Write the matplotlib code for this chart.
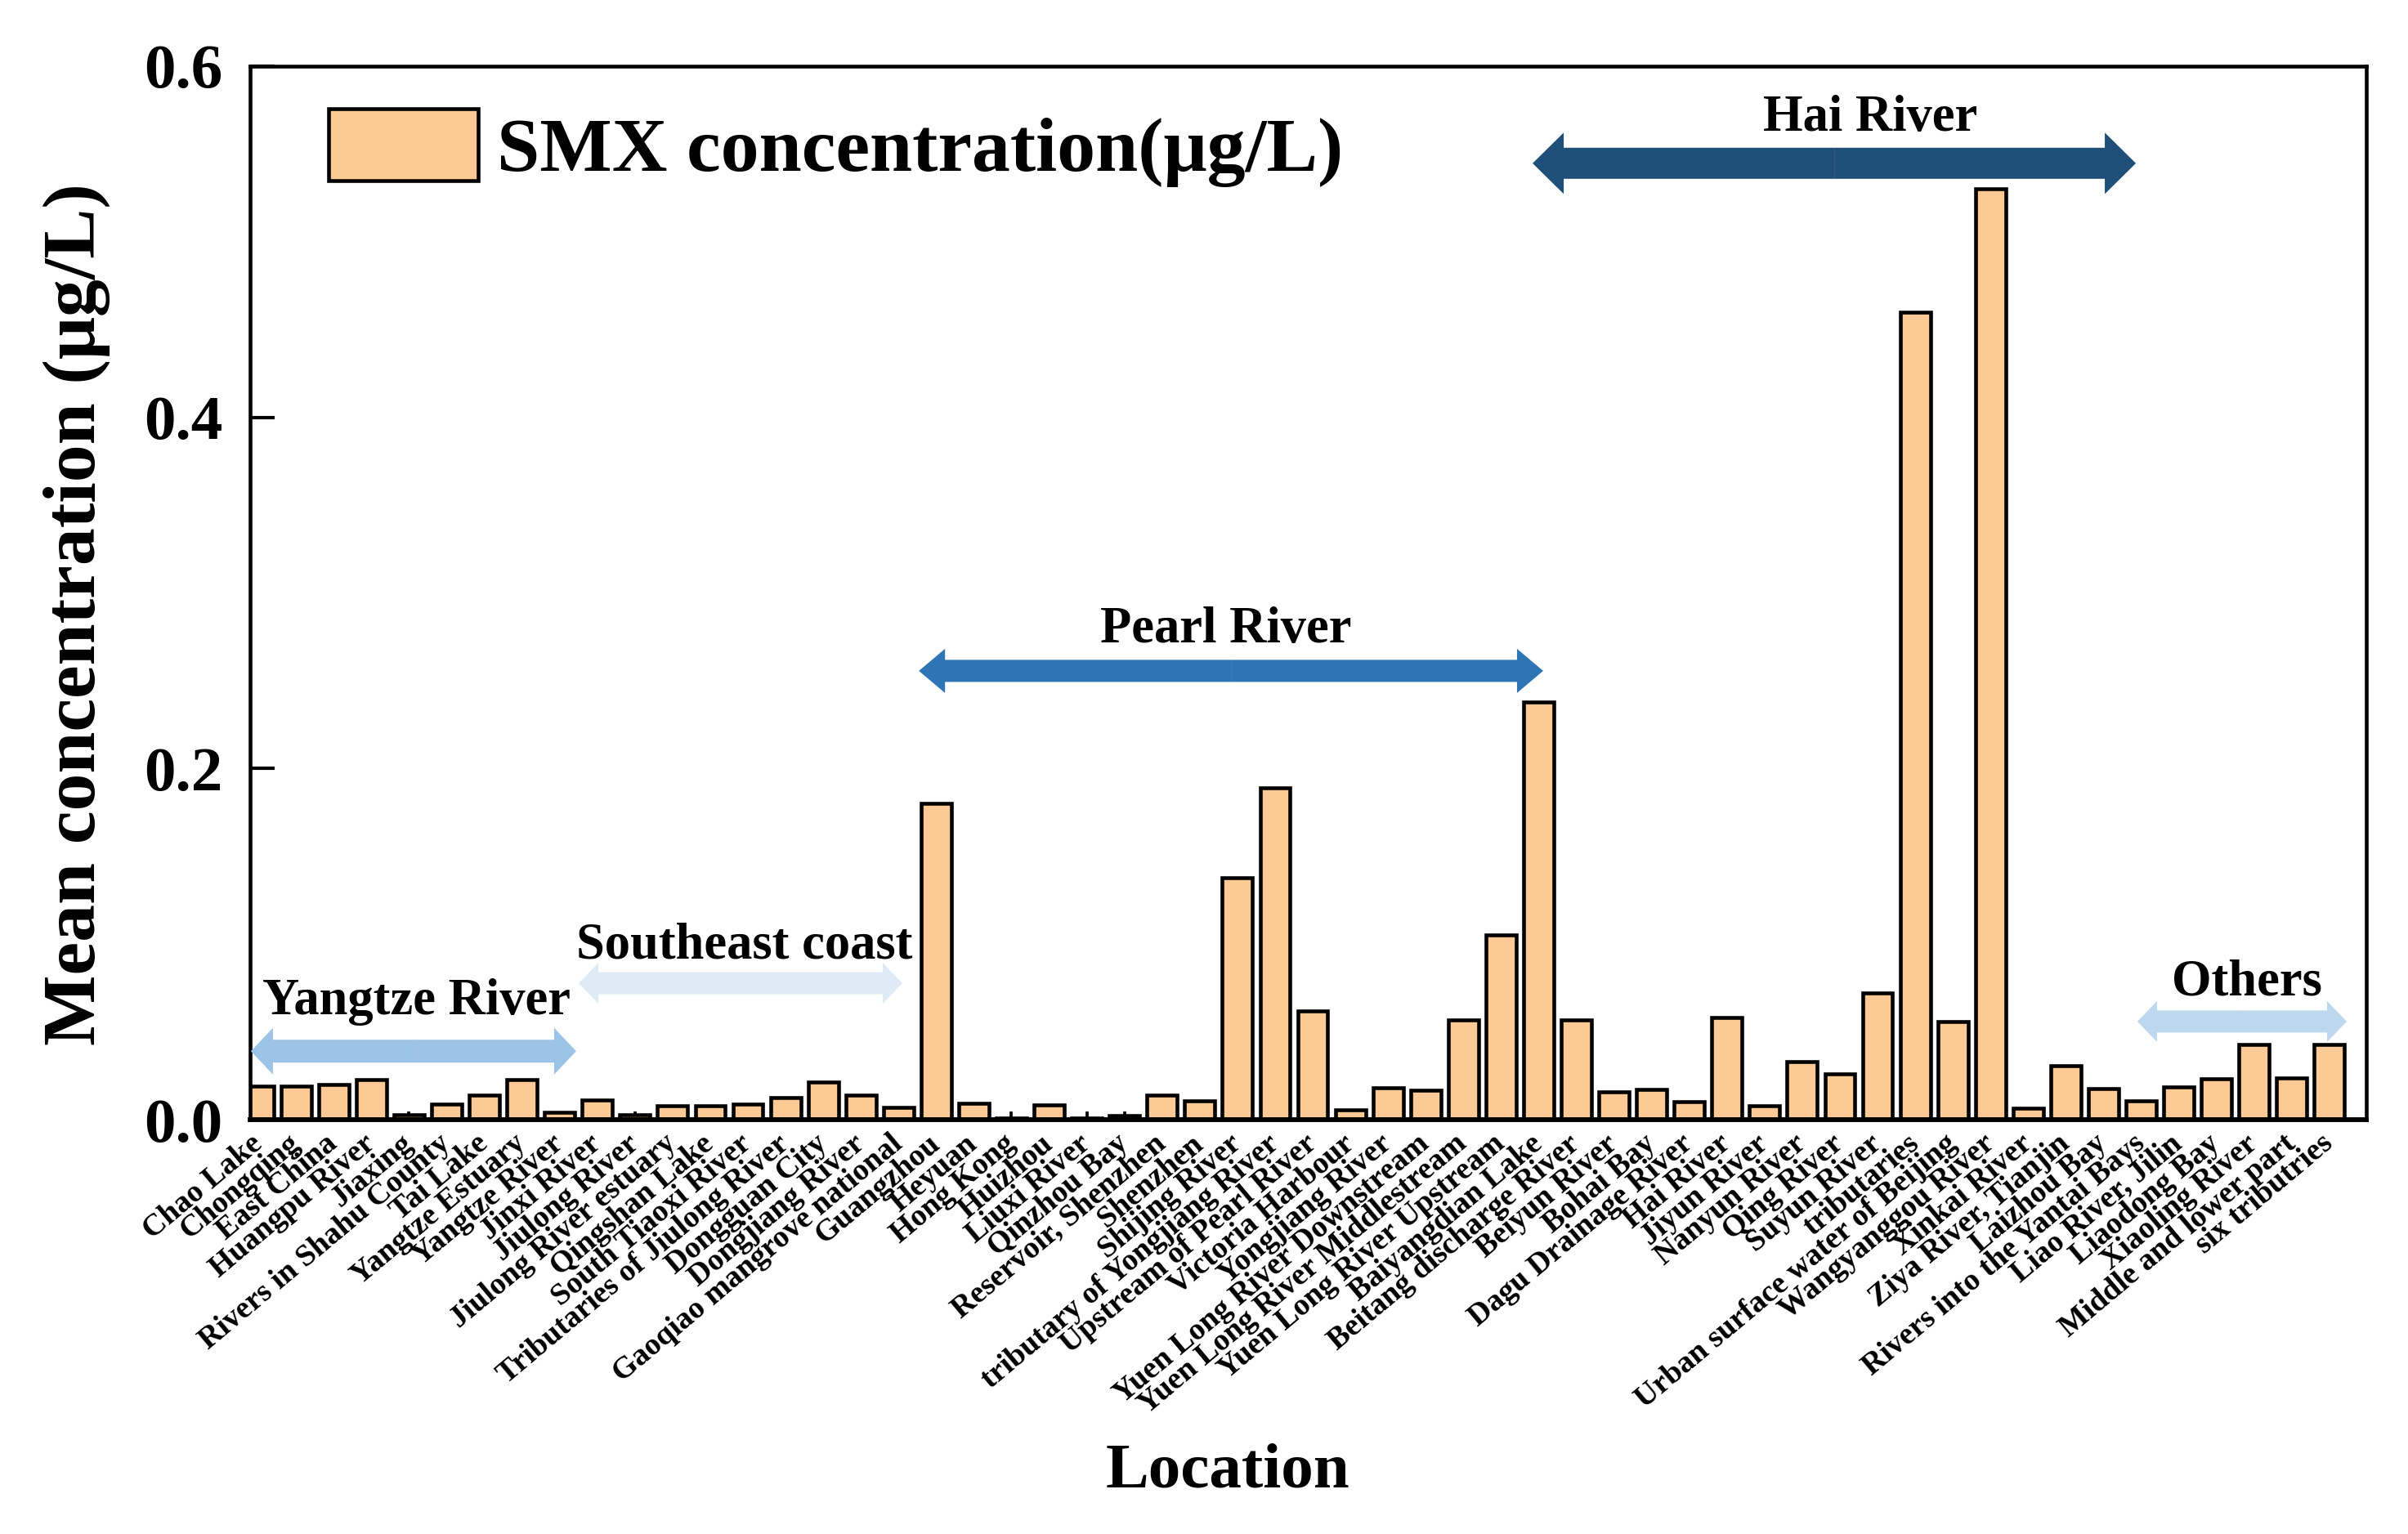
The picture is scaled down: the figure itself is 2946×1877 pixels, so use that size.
import matplotlib
matplotlib.use('Agg')
import matplotlib.pyplot as plt
import matplotlib.patches as mpatches
import numpy as np

plt.rcParams['font.family'] = ['Liberation Serif', 'DejaVu Serif']
plt.rcParams['font.weight'] = 'bold'

locations = [
    "Chao Lake", "Chongqing", "East China", "Huangpu River", "Jiaxing",
    "Rivers in Shahu County", "Tai Lake", "Yangtze Estuary", "Yangtze River",
    "Jinxi River", "Jiulong River", "Jiulong River estuary", "Qingshan Lake",
    "South Tiaoxi River", "Tributaries of Jiulong River", "Dongguan City",
    "Dongjiang River", "Gaoqiao mangrove national", "Guangzhou", "Heyuan",
    "Hong Kong", "Huizhou", "Liuxi River", "Qinzhou Bay", "Reservoir, Shenzhen",
    "Shenzhen", "Shijing River", "tributary of Yongjiang River",
    "Upstream of Pearl River", "Victoria Harbour", "Yongjiang River",
    "Yuen Long River Downstream", "Yuen Long River Middlestream",
    "Yuen Long River Upstream", "Baiyangdian Lake", "Beitang discharge River",
    "Beiyun River", "Bohai Bay", "Dagu Drainage River", "Hai River",
    "Jiyun River", "Nanyun River", "Qing River", "Suyun River", "tributaries",
    "Urban surface water of Beijing", "Wangyanggou River", "Xinkai River",
    "Ziya River, Tianjin", "Laizhou Bay", "Rivers into the Yantai Bays",
    "Liao River, Jilin", "Liaodong Bay", "Xiaoling River",
    "Middle and lower part", "six tributries",
]

smx = [
    0.019, 0.019, 0.020, 0.023, 0.003, 0.009, 0.014, 0.023, 0.004,
    0.011, 0.003, 0.008, 0.008, 0.009, 0.0125, 0.0215, 0.014, 0.007,
    0.180, 0.0094, 0.0008, 0.0086, 0.001, 0.0023, 0.014, 0.0106,
    0.138, 0.189, 0.062, 0.0055, 0.018, 0.0167, 0.057, 0.105,
    0.238, 0.0567, 0.016, 0.0173, 0.0102, 0.058, 0.0081, 0.033,
    0.026, 0.072, 0.46, 0.056, 0.53, 0.0066, 0.0305, 0.0175,
    0.0106, 0.0188, 0.0235, 0.043, 0.0238, 0.043,
]

# region groups: name, x-start, x-end (in bar index units), y, colour
region_names = ["Yangtze River", "Southeast coast", "Pearl River", "Hai River", "Others"]
region_x0 = [-0.2, 8.51, 17.54, 33.84, 49.9]
region_x1 = [8.44, 17.1, 34.12, 49.86, 55.46]
region_y = [0.039, 0.0777, 0.2556, 0.5447, 0.0559]
region_colors = ["#9DC3E6", "#DEEBF7", "#2E75B6", "#1F4E79", "#BDD7EE"]
region_text_y = [0.067, 0.099, 0.279, 0.570, 0.078]
region_text_x = [4.2, 12.9, 25.7, 42.8, 52.8]

bar_color = "#FDC995"

fig = plt.figure(figsize=(2946 / 300, 1877 / 300), dpi=300)
ax = fig.add_axes([306 / 2946, 1 - 1370 / 1877, (2895 - 306) / 2946, (1370 - 81) / 1877])

x = np.arange(len(locations))
bars = ax.bar(x, smx, width=0.8, color=bar_color, edgecolor='black', linewidth=1.1,
              label='SMX concentration(\u03bcg/L)', zorder=2)

ax.set_xlim(-0.22, 55.98)
ax.set_ylim(0, 0.6)
ax.set_yticks([0.0, 0.2, 0.4, 0.6])
ax.set_yticklabels(['0.0', '0.2', '0.4', '0.6'], fontsize=18.5, fontweight='bold')
ax.set_xticks(x)
ax.set_xticklabels(locations, rotation=40, ha='right', va='center',
                   rotation_mode='anchor', fontsize=9.1, fontweight='bold')
ax.tick_params(axis='y', direction='in', length=7.2, width=1.0, pad=8)
ax.tick_params(axis='x', direction='in', length=2.4, width=0.9, pad=6)
for s in ax.spines.values():
    s.set_linewidth(1.1)
ax.spines['bottom'].set_linewidth(1.4)

ax.set_ylabel('Mean concentration (\u03bcg/L)', fontsize=22, fontweight='bold')
ax.yaxis.set_label_coords(-0.066, 0.48)
ax.set_xlabel('Location', fontsize=19, fontweight='bold')
ax.xaxis.set_label_coords(0.462, -0.307)

# double-headed block arrows for regions
px_x = (2895 - 306) / 56.2   # pixels per x unit
px_y = 1289 / 0.6            # pixels per y unit
shaft_px = [28, 27, 27, 38, 27]
head_px = [57, 50, 54, 75, 50]
headlen_px = [27, 24, 32, 38, 24]
for i in range(len(region_names)):
    xm = (region_x0[i] + region_x1[i]) / 2
    for xe in (region_x0[i], region_x1[i]):
        arr = mpatches.FancyArrow(xm, region_y[i], xe - xm, 0,
                                  width=shaft_px[i] / px_y,
                                  head_width=head_px[i] / px_y,
                                  head_length=headlen_px[i] / px_x,
                                  length_includes_head=True,
                                  color=region_colors[i], linewidth=0, zorder=3)
        ax.add_patch(arr)
    ax.text(region_text_x[i], region_text_y[i], region_names[i], ha='center', va='center',
            fontsize=15, fontweight='bold', zorder=4)

leg = ax.legend(handles=[bars], labels=['SMX concentration(\u03bcg/L)'], loc='upper left',
                bbox_to_anchor=(0.037, 0.96), frameon=False, borderpad=0, borderaxespad=0,
                handlelength=1.95, handleheight=1.08, handletextpad=0.25,
                prop={'size': 22.5, 'weight': 'bold'})

fig.savefig('out.png', dpi=300)
